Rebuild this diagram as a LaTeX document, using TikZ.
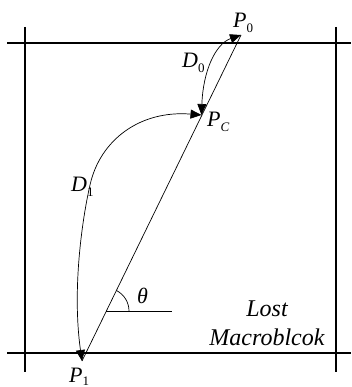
\documentclass[tikz,border=0pt]{standalone}
\usepackage{fontspec}
\setmainfont{Liberation Serif}
\usetikzlibrary{arrows.meta,calc}
\newcommand\lblsub[2]{\textit{#1}\raisebox{-5pt}{\fontsize{13}{13}\selectfont\upshape #2}}
\tikzset{
  frame/.style={line width=1.4pt},
  thin line/.style={line width=0.7pt},
  bitri/.style={{Triangle[length=11pt,width=9pt]}-{Triangle[length=11pt,width=9pt]}},
  lbl/.style={inner sep=0pt, anchor=base west, font=\fontsize{22}{22}\selectfont\itshape},
  big/.style={inner sep=0pt, anchor=base, font=\fontsize{24}{24}\selectfont\itshape}
}
\begin{document}
\begin{tikzpicture}[x=1pt,y=-1pt]
\useasboundingbox (0,0) rectangle (351,387);
% frame
\coordinate (TL) at (7,43);  \coordinate (TR) at (351,43);
\coordinate (BL) at (7,353); \coordinate (BR) at (351,353);
\coordinate (LT) at (25,27); \coordinate (LB) at (25,372);
\coordinate (RT) at (336,27); \coordinate (RB) at (336,372);
\draw[frame] (TL) -- (TR);
\draw[frame] (BL) -- (BR);
\draw[line width=1.1pt] (LT) -- (LB);
\draw[line width=1.1pt] (RT) -- (RB);
% points
\coordinate (P0) at (241,35);
\coordinate (Pc) at (201.5,115);
\coordinate (P1) at (82,361);
\coordinate (V) at (106,311);
\coordinate (H) at (172,311);
\coordinate (A0) at (129,311);
% straight line
\draw[thin line] (P1) -- (P0);
% D0 arc
\draw[thin line, bitri] (Pc) .. controls (203,72) and (215,44) .. (P0);
% D1 arc
\draw[thin line, bitri]
  (Pc) .. controls (140,110) and (100,140) .. (90,185)
       .. controls (82,220) and (72,290) .. (P1);
% theta
\draw[thin line] (V) -- (H);
\draw[thin line] (A0) arc[start angle=0, end angle=-63, radius=23];
% labels
\node[lbl] (lP0) at (233,28) {\lblsub{P}{0}};
\node[lbl] (lPc) at (207,127) {\lblsub{P}{\textit{C}}};
\node[lbl] (lD0) at (182,68) {\lblsub{D}{0}};
\node[lbl] (lD1) at (71,191) {\lblsub{D}{1}};
\node[lbl] (lP1) at (69,382) {\textit{P}\raisebox{-3pt}{\fontsize{13}{13}\selectfont\upshape 1}};
\node[lbl] (lth) at (137,303) {θ};
\node[big] (lost) at (267,316) {Lost};
\node[big] (mb) at (267,345) {Macroblcok};
\end{tikzpicture}
\end{document}
